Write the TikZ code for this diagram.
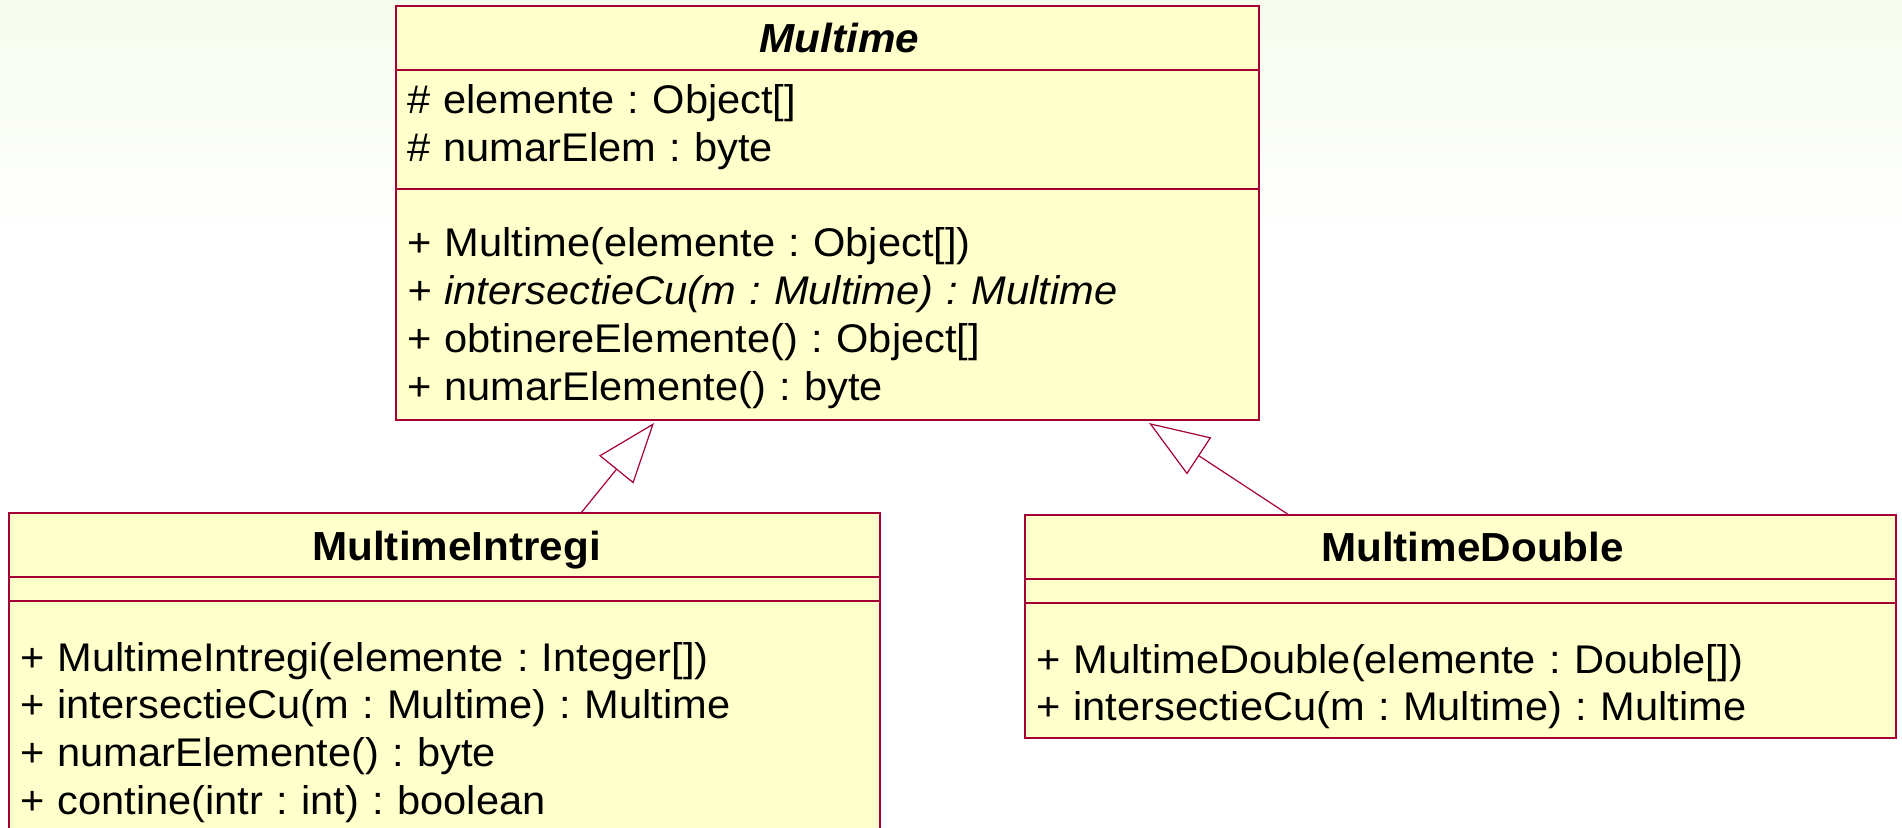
\documentclass[tikz,border=0pt]{standalone}
\usepackage{fontspec}
\setmainfont{Liberation Sans}[FakeStretch=1.04]
\usetikzlibrary{positioning,arrows.meta}
\frenchspacing

\definecolor{umlborder}{RGB}{165,0,52}
\definecolor{umlfill}{RGB}{255,255,204}
\definecolor{bgtint}{RGB}{246,251,238}

\tikzset{%
	>={Triangle[open,length=30pt,width=22pt]},
	% Specifications for style of nodes:
	umlbase/.style = {rectangle, draw=umlborder, fill=umlfill, line width=0.9pt,
		inner xsep=5.5pt, inner ysep=0pt, outer sep=0pt,
		font=\fontsize{20}{23.85}\selectfont},
	classname/.style = {umlbase, align=center, font=\fontsize{20.3}{23.85}\selectfont\bfseries,
		text height=23.5pt, text depth=8.5pt, execute at begin node={\hspace*{12pt}}},
	members/.style = {umlbase, align=left},
	inherit/.style = {->, draw=umlborder, line width=0.6pt},
}

\begin{document}
\begin{tikzpicture}
\shade[top color=bgtint, bottom color=white] (0,0) rectangle (951pt,-120pt);
\clip (0,0) rectangle (951pt,-414pt);

%% Specification of nodes (position, etc.)
\node (multimeTitle) [classname, text width=420.5pt, anchor=north west] at (198pt,-3pt) {\textit{Multime}};
\node (multimeAttr)  [members, text width=420.5pt, text height=22pt, text depth=37.5pt, below=0pt of multimeTitle]
	{\# elemente : Object[]\\ \# numarElem : byte};
\node (multimeOps)   [members, text width=420.5pt, text height=34pt, text depth=81.5pt, below=0pt of multimeAttr]
	{+ Multime(elemente : Object[])\\ \textit{+ intersectieCu(m : Multime) : Multime}\\
	 + obtinereElemente() : Object[]\\ + numarElemente() : byte};

\node (intregiTitle) [classname, text width=424.5pt, anchor=north west] at (4.5pt,-256.5pt) {MultimeIntregi};
\node (intregiAttr)  [members, text width=424.5pt, text height=0pt, text depth=12pt, below=0pt of intregiTitle] {};
\node (intregiOps)   [members, text width=424.5pt, text height=35pt, text depth=87pt, below=0pt of intregiAttr]
	{+ MultimeIntregi(elemente : Integer[])\\ + intersectieCu(m : Multime) : Multime\\
	 + numarElemente() : byte\\ + contine(intr : int) : boolean};

\node (doubleTitle)  [classname, text width=424.5pt, anchor=north west] at (512.5pt,-257.5pt) {MultimeDouble};
\node (doubleAttr)   [members, text width=424.5pt, text height=0pt, text depth=12pt, below=0pt of doubleTitle] {};
\node (doubleOps)    [members, text width=424.5pt, text height=35pt, text depth=32.5pt, below=0pt of doubleAttr]
	{+ MultimeDouble(elemente : Double[])\\ + intersectieCu(m : Multime) : Multime};

%% Specification of lines between nodes specified above
\draw[inherit] ([xshift=68.25pt]intregiTitle.north) -- ([xshift=-86.75pt,yshift=-1.5pt]multimeOps.south);
\draw[inherit] ([xshift=-85.75pt]doubleTitle.north) -- ([xshift=160.75pt,yshift=-1.5pt]multimeOps.south);
\end{tikzpicture}
\end{document}
